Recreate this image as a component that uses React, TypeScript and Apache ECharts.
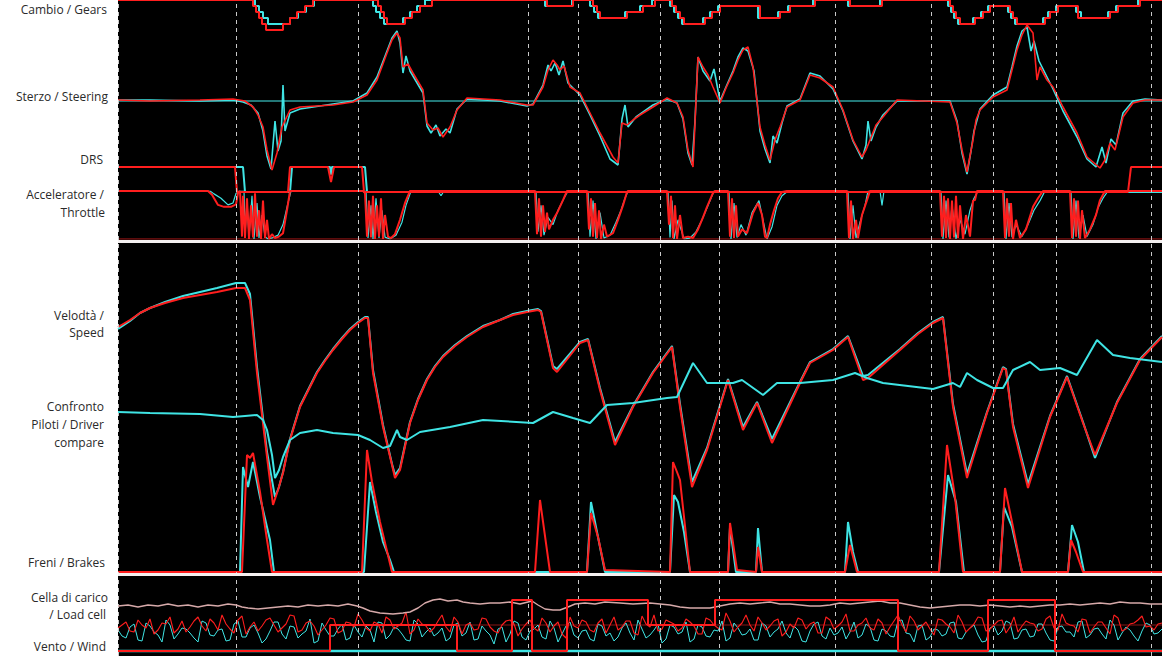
import React, { useEffect, useRef } from "react";
import * as echarts from "echarts";

type P = [number, number];

const RED = "#ff1e1e";
const CYAN = "#3fe4e4";

// distance unit: 1 = 5 m along the lap (0..1044)
const lapMarkers = [0, 118, 240, 410, 460, 542, 601, 717, 813, 875, 938, 1033];

const labels: { text: string; y: number; right: number }[] = [
  { text: "Cambio / Gears", y: 9, right: 107 },
  { text: "Sterzo / Steering", y: 96, right: 108 },
  { text: "DRS", y: 159, right: 103 },
  { text: "Acceleratore /", y: 194, right: 104 },
  { text: "Throttle", y: 212, right: 105 },
  { text: "Velodtà /", y: 315, right: 104 },
  { text: "Speed", y: 332, right: 104 },
  { text: "Confronto", y: 406, right: 104 },
  { text: "Piloti / Driver", y: 424, right: 104 },
  { text: "compare", y: 442, right: 104 },
  { text: "Freni / Brakes", y: 562, right: 105 },
  { text: "Cella di carico", y: 597, right: 108 },
  { text: "/ Load cell", y: 614, right: 106 },
  { text: "Vento / Wind", y: 646, right: 106 },
];

// Gears (step: value held until next point)
const gearRed: P[] = [[0,8],[135,7],[138,6],[141,5],[144,4],[148,3],[165,4],[172,5],[179,6],[187,7],[195,8],[260,7],[263,6],[266,5],[269,4],[287,5],[294,6],[302,7],[314,8],[429,7],[455,8],[475,7],[479,6],[482,5],[509,6],[525,7],[537,8],[554,7],[558,6],[562,5],[566,4],[587,5],[594,6],[602,7],[642,5],[662,6],[672,7],[697,8],[732,7],[764,8],[832,7],[835,6],[838,5],[842,4],[857,5],[865,6],[872,7],[892,6],[895,5],[899,4],[927,5],[932,6],[940,7],[960,5],[992,6],[1000,7],[1022,8],[1044,8]];
const gearCyan: P[] = [[0,8],[137,7],[141,6],[145,5],[150,4],[172,5],[180,6],[188,7],[196,8],[255,7],[258,6],[262,5],[266,4],[285,5],[292,6],[299,7],[307,8],[427,7],[454,8],[472,7],[476,6],[480,5],[507,6],[522,7],[534,8],[552,7],[556,6],[560,5],[564,4],[585,5],[592,6],[600,7],[640,5],[660,6],[670,7],[695,8],[730,7],[762,8],[830,7],[833,6],[836,5],[840,4],[855,5],[863,6],[870,7],[890,6],[893,5],[897,4],[925,5],[930,6],[938,7],[958,6],[963,5],[990,6],[998,7],[1020,8],[1044,8]];

// Steering angle (deg)
const steerZero: P[] = [[0,0],[1044,0]];
const steerRed: P[] = [[0,1],[32,0],[82,1],[115,2],[127,0],[135,-6],[140,-14],[145,-26],[149,-49],[154,-69],[159,-52],[164,-26],[172,-9],[182,-6],[215,-4],[235,-1],[249,6],[259,21],[269,48],[274,61],[279,68],[282,63],[285,34],[290,37],[295,28],[305,11],[309,-22],[315,-29],[320,-27],[325,-36],[332,-26],[339,-9],[349,3],[382,1],[409,-4],[415,-4],[425,14],[430,31],[435,41],[439,36],[442,31],[446,35],[452,14],[462,8],[472,-12],[482,-32],[495,-56],[500,-62],[504,-22],[509,-24],[515,-19],[522,-14],[535,-6],[549,3],[559,-2],[565,-16],[570,-49],[575,-66],[580,44],[585,34],[590,26],[595,14],[602,-2],[608,13],[615,28],[620,41],[625,51],[630,54],[635,34],[642,-26],[647,-44],[652,-59],[657,-39],[662,-26],[669,-6],[682,1],[692,26],[702,23],[715,14],[725,-9],[735,-39],[744,-56],[748,-49],[752,-39],[758,-24],[765,-16],[779,1],[832,-1],[839,-22],[844,-49],[849,-71],[855,-39],[858,-19],[862,-9],[875,4],[889,11],[894,31],[899,51],[904,66],[909,76],[915,68],[919,21],[922,34],[929,21],[935,14],[945,-6],[959,-32],[969,-56],[982,-67],[987,-59],[992,-42],[997,-49],[1005,-16],[1015,-2],[1027,1],[1044,1]];
const steerCyan: P[] = [[0,1],[32,1],[82,0],[115,1],[125,-1],[133,-4],[140,-12],[145,-30],[149,-55],[153,-68],[157,-20],[160,-50],[163,-40],[165,16],[167,-30],[172,-12],[182,-8],[215,-3],[235,0],[249,8],[259,24],[269,50],[274,63],[279,70],[282,58],[285,28],[288,45],[292,30],[305,8],[309,-25],[313,-32],[318,-24],[322,-35],[328,-28],[332,-32],[339,-8],[349,2],[382,0],[409,-5],[415,-3],[425,16],[430,36],[433,30],[437,38],[441,26],[445,40],[450,18],[462,6],[472,-14],[482,-35],[492,-58],[500,-64],[504,-18],[507,-4],[510,-26],[518,-16],[535,-4],[549,2],[559,-2],[565,-18],[570,-52],[574,-64],[577,-20],[580,44],[585,30],[592,20],[596,32],[602,0],[608,14],[615,30],[620,44],[625,53],[630,50],[636,30],[642,-30],[647,-48],[652,-62],[655,-35],[659,-42],[664,-22],[669,-5],[682,2],[692,28],[702,25],[715,12],[725,-10],[735,-40],[744,-58],[748,-44],[750,-20],[753,-40],[758,-26],[765,-14],[779,0],[832,0],[839,-20],[844,-52],[849,-73],[853,-50],[856,-30],[862,-8],[875,6],[889,14],[894,34],[899,55],[904,70],[909,74],[913,50],[916,60],[921,40],[929,24],[935,12],[945,-10],[959,-36],[969,-58],[978,-66],[984,-46],[988,-62],[993,-38],[998,-44],[1005,-12],[1015,0],[1027,2],[1044,1]];

// DRS (1 = open)
const drsRed: P[] = [[0,1],[117,1],[119,0],[170,0],[172,1],[210,1],[213,0.4],[216,1],[244,1],[246,0],[1010,0],[1013,1],[1044,1]];
const drsCyan: P[] = [[0,1],[125,1],[127,0],[172,0],[174,1],[212,1],[213,0.7],[214,1],[247,1],[249,0],[1044,0]];

// Throttle (%)
const thrZero: P[] = [[0,0],[1044,0]];
const thrRed: P[] = [[0,100],[90,100],[94,92],[100,71],[106,67],[113,67],[118,72],[120,96],[122,100],[124,5],[125,90],[127,2],[129,85],[131,0],[133,70],[135,3],[137,95],[139,5],[141,60],[143,0],[145,80],[147,2],[149,40],[151,0],[154,10],[157,2],[161,5],[165,12],[169,60],[172,100],[245,100],[247,96],[249,5],[251,80],[253,3],[255,90],[257,0],[259,70],[261,5],[263,85],[265,0],[267,50],[270,5],[273,2],[277,10],[282,40],[287,75],[292,100],[417,100],[419,10],[421,85],[423,5],[425,70],[427,15],[429,55],[431,20],[435,40],[439,54],[445,81],[449,100],[469,100],[471,20],[473,85],[475,5],[477,75],[479,2],[481,60],[483,0],[486,30],[489,5],[495,12],[500,40],[505,70],[509,98],[510,100],[549,100],[551,30],[553,90],[555,2],[557,70],[559,0],[562,50],[565,2],[570,5],[575,2],[580,20],[585,45],[589,67],[595,96],[597,100],[610,100],[612,5],[614,85],[616,2],[618,70],[620,5],[624,20],[629,12],[633,40],[635,54],[640,75],[644,50],[647,5],[649,2],[652,30],[656,60],[660,85],[664,98],[669,100],[729,100],[731,2],[733,80],[735,0],[738,40],[740,2],[744,50],[749,81],[752,100],[822,100],[824,5],[826,90],[828,2],[830,85],[832,0],[834,80],[836,3],[838,90],[840,2],[842,70],[845,0],[848,50],[852,5],[855,80],[857,81],[859,100],[885,100],[887,2],[889,85],[891,5],[893,75],[895,0],[898,40],[902,2],[908,20],[915,67],[920,85],[925,100],[952,100],[954,2],[956,85],[958,5],[960,80],[962,0],[964,60],[967,2],[972,20],[978,50],[982,81],[987,100],[1044,100]];
const thrCyan: P[] = [[0,100],[92,100],[96,94],[103,85],[110,71],[115,75],[118,95],[121,100],[126,100],[127,8],[129,80],[131,3],[134,90],[136,0],[139,75],[141,2],[144,50],[147,5],[150,0],[155,3],[160,8],[165,30],[170,75],[173,100],[248,100],[250,2],[253,70],[255,0],[258,85],[261,2],[264,60],[267,4],[272,0],[278,8],[284,35],[288,70],[293,100],[320,100],[323,90],[326,100],[418,100],[420,15],[423,70],[426,8],[430,45],[435,30],[440,60],[446,85],[450,100],[470,100],[472,5],[475,80],[478,0],[482,55],[486,2],[492,8],[498,35],[503,60],[507,85],[510,100],[550,100],[552,3],[554,80],[556,0],[560,40],[566,0],[572,2],[578,15],[584,40],[590,70],[596,100],[611,100],[613,0],[616,75],[619,3],[623,30],[628,8],[634,55],[641,80],[645,40],[649,0],[654,25],[659,70],[664,90],[670,100],[730,100],[732,0],[735,70],[738,2],[742,35],[747,70],[750,100],[762,100],[764,70],[766,100],[823,100],[825,0],[828,80],[831,3],[834,70],[838,0],[842,40],[847,10],[852,60],[856,85],[860,100],[886,100],[888,0],[891,75],[894,4],[898,30],[904,5],[910,30],[916,60],[922,80],[927,100],[953,100],[955,0],[958,80],[961,2],[965,50],[969,5],[975,30],[980,65],[985,85],[990,100],[1044,100]];

// Speed (km/h)
const speedRed: P[] = [[0,245],[12,252],[22,259],[32,264],[47,269],[65,274],[82,277],[99,280],[118,284],[127,284],[132,272],[139,199],[149,115],[155,67],[160,82],[165,99],[172,132],[182,165],[191,183],[199,199],[207,211],[215,222],[224,233],[232,242],[240,249],[247,254],[250,254],[255,199],[265,145],[274,107],[277,94],[282,102],[292,149],[300,172],[309,192],[317,205],[325,215],[337,226],[349,235],[365,245],[382,252],[395,257],[409,260],[420,262],[423,260],[435,204],[439,200],[462,229],[470,232],[482,182],[497,127],[515,165],[535,199],[554,225],[562,165],[574,85],[589,122],[610,192],[625,142],[639,169],[654,129],[682,189],[692,209],[715,222],[730,235],[745,192],[750,194],[782,222],[800,238],[815,249],[825,254],[835,165],[849,94],[869,159],[885,204],[888,202],[895,145],[910,84],[932,155],[949,195],[965,149],[977,117],[999,169],[1022,212],[1044,235]];
const speedCyan: P[] = [[0,243],[12,251],[22,259],[32,264],[47,270],[65,276],[82,280],[99,284],[118,289],[127,289],[132,278],[139,205],[149,120],[157,75],[161,85],[165,100],[172,133],[182,166],[191,184],[199,200],[207,212],[215,223],[224,234],[232,243],[240,250],[247,255],[250,255],[255,202],[265,147],[274,108],[277,97],[282,104],[292,150],[300,173],[309,193],[317,206],[325,216],[337,227],[349,236],[365,246],[382,252],[395,258],[409,261],[420,263],[423,261],[435,206],[439,203],[462,230],[470,233],[482,184],[497,130],[515,166],[535,200],[554,226],[562,168],[574,90],[589,124],[610,193],[625,145],[639,170],[654,133],[682,190],[692,210],[715,223],[730,236],[745,196],[750,197],[782,223],[800,239],[815,250],[825,255],[835,168],[849,98],[869,160],[885,205],[888,203],[895,148],[910,88],[932,156],[949,196],[965,150],[977,114],[999,170],[1022,213],[1044,236]];

// Driver compare (time delta, s)
const deltaCyan: P[] = [[0,-0.01],[32,-0.02],[82,-0.03],[115,-0.06],[127,-0.05],[139,-0.04],[145,-0.09],[149,-0.19],[154,-0.44],[157,-0.67],[161,-0.59],[165,-0.46],[172,-0.29],[182,-0.22],[199,-0.19],[215,-0.22],[240,-0.24],[252,-0.29],[265,-0.37],[272,-0.35],[279,-0.19],[282,-0.26],[289,-0.29],[302,-0.21],[332,-0.16],[365,-0.09],[415,-0.12],[435,-0.01],[455,-0.07],[472,-0.12],[489,0.06],[515,0.08],[549,0.13],[559,0.14],[575,0.48],[589,0.28],[615,0.28],[624,0.31],[645,0.16],[659,0.28],[682,0.28],[715,0.31],[737,0.38],[749,0.33],[765,0.28],[815,0.22],[835,0.28],[842,0.24],[849,0.38],[859,0.31],[875,0.23],[885,0.23],[895,0.41],[912,0.49],[922,0.41],[942,0.43],[959,0.36],[979,0.71],[995,0.56],[1012,0.53],[1044,0.49]];

// Brakes (bar)
const brakeRed: P[] = [[0,0],[124,0],[129,117],[132,114],[135,119],[142,80],[149,32],[154,0],[244,0],[249,122],[254,90],[262,50],[274,0],[417,0],[422,72],[432,0],[469,0],[473,59],[480,35],[487,2],[552,0],[555,110],[559,100],[562,92],[572,0],[610,0],[612,49],[619,2],[638,0],[640,25],[644,0],[727,0],[732,27],[739,0],[821,0],[829,127],[837,75],[845,0],[882,0],[887,84],[894,50],[904,0],[950,0],[953,32],[958,20],[965,0],[1044,0]];
const brakeCyan: P[] = [[0,0],[122,0],[125,105],[130,85],[135,110],[142,75],[152,32],[156,0],[246,0],[252,90],[258,60],[265,30],[272,12],[276,0],[469,0],[473,70],[478,45],[487,0],[552,0],[556,77],[560,70],[566,40],[572,0],[610,0],[612,45],[618,0],[638,0],[640,44],[644,0],[727,0],[730,50],[735,20],[740,0],[821,0],[830,97],[838,70],[846,0],[882,0],[886,65],[894,45],[904,0],[950,0],[954,47],[960,30],[966,0],[1044,0]];

// Load cell: samples every 8 units (A) and at +4 (B)
const loadStep = 8;
const loadRedA = [22,28,18,25,31,20,26,17,29,23,33,19,27,35,21,30,16,28,24,32,18,26,34,20,29,15,25,31,19,27,36,22,28,17,30,24,38,20,26,18,29,23,33,16,27,21,31,19,25,30,14,26,22,32,18,28,12,24,30,20,27,17,33,23,29,15,26,35,21,28,19,31,24,16,30,22,37,18,27,25,33,20,29,14,26,32,21,28,17,30,24,36,19,27,22,31,16,29,25,34,20,28,15,30,23,35,18,26,32,21,29,17,33,24,27,19,31,22,36,25,18,30,23,28,16,32,21,27,34,24,26];
const loadRedB = [25,19,30,22,16,27,33,21,18,29,24,31,20,26,17,34,23,19,30,25,22,35,18,27,24,20,32,17,28,23,30,19,26,33,21,27,16,31,24,22,35,18,28,25,20,32,23,17,29,26,21,30,19,27,24,16,33,22,28,18,31,25,20,29,17,34,23,19,30,26,22,28,16,32,25,20,29,23,35,19,27,24,31,18,22,30,26,17,33,21,28,19,25,32,20,27,23,35,18,29,24,21,31,26,17,28,22,33,19,25,30,23,18,29,26,21,34,20,27,24,31,17,28,22,35,19,26,30,23,20,27];
const loadCyanA = [20,12,26,9,24,15,30,11,22,17,8,27,14,21,10,29,13,25,7,19,28,11,23,16,31,9,20,14,26,12,18,24,8,27,15,21,10,30,13,22,17,9,25,14,28,11,19,6,23,16,27,10,21,13,29,8,24,15,19,11,26,14,9,22,17,30,12,20,7,25,16,28,11,23,13,19,9,27,15,21,10,24,18,29,12,20,8,26,14,22,17,11,28,15,23,9,19,13,30,16,24,10,21,14,27,12,18,25,8,22,15,29,11,20,13,26,17,9,24,18,28,12,21,16,30,10,23,14,19,25,17];
const loadCyanB = [14,23,10,27,18,8,25,16,21,12,29,15,20,9,26,13,22,17,11,28,16,24,12,19,7,27,14,21,10,25,13,20,28,11,23,16,9,26,18,14,22,12,27,17,10,24,15,21,8,29,13,19,25,11,22,16,28,12,20,9,24,17,13,27,10,21,15,26,11,23,18,8,25,14,20,29,12,22,16,10,27,13,21,17,24,9,19,28,11,15,23,18,12,26,10,21,14,29,17,8,25,13,20,16,28,11,22,15,9,24,19,27,12,21,14,26,10,23,18,13,29,15,22,11,25,17,20,9,27,16,21];
const loadPale: P[] = [[0,44],[10,45],[20,43],[30,45],[40,44],[50,46],[60,44],[70,45],[80,43],[90,45],[100,44],[110,46],[118,45],[124,43],[130,42],[140,41],[150,42],[160,43],[170,44],[180,43],[190,45],[200,44],[210,45],[220,44],[230,46],[239,44],[245,42],[252,39],[262,37],[275,36],[285,37],[292,38],[300,42],[307,47],[315,50],[322,51],[330,49],[339,50],[345,48],[352,47],[362,46],[372,47],[382,47],[392,48],[402,46],[414,49],[420,45],[427,41],[435,40],[442,40],[450,43],[457,46],[467,47],[477,46],[487,48],[502,47],[515,46],[532,47],[542,46],[552,45],[562,43],[572,42],[582,42],[592,42],[602,44],[612,46],[622,47],[632,46],[642,47],[652,48],[662,46],[672,46],[682,45],[692,44],[702,44],[712,45],[722,47],[732,46],[742,47],[752,48],[762,49],[772,47],[782,47],[792,45],[802,43],[812,42],[822,43],[832,44],[842,45],[852,45],[862,44],[872,45],[882,44],[892,43],[902,44],[912,43],[922,44],[932,45],[942,45],[952,46],[962,45],[972,46],[982,47],[992,46],[1002,48],[1012,47],[1022,47],[1032,46],[1044,46]];
const loadRef: P[] = [[249,25],[1044,25]];

// Wind
const windRed: P[] = [[0,-1],[212,-1],[212,25],[339,25],[339,-1],[394,-1],[394,50],[414,50],[414,-1],[449,-1],[449,50],[530,50],[530,25],[597,25],[597,50],[780,50],[780,-1],[870,-1],[870,50],[937,50],[937,-1],[1044,-1]];
const windCyan: P[] = [[0,-1],[1044,-1]];

// grid layout: frame, gear, steer, drs, throttle, speed, delta, brake, load
const gridBoxes = [
  { top: 0, height: 656 },
  { top: 0, height: 42 },
  { top: 1, height: 200 },
  { top: 167, height: 25 },
  { top: 191, height: 48 },
  { top: 252, height: 320 },
  { top: 251, height: 320 },
  { top: 442, height: 130 },
  { top: 590, height: 66 },
];
const yRanges: P[] = [[0,1],[1,8],[-100,100],[0,1],[0,100],[0,320],[-1.6,1.6],[0,130],[-6,60]];

function ln(g: number, data: any[], color: string, width: number, z: number, extra: any = {}) {
  return {
    type: "line",
    xAxisIndex: g,
    yAxisIndex: g,
    data,
    symbol: "none",
    showSymbol: false,
    silent: true,
    z,
    lineStyle: { color, width },
    itemStyle: { color },
    ...extra,
  };
}

function interleave(a: number[], b: number[]): number[][] {
  const out: number[][] = [];
  a.forEach((v, i) => {
    out.push([i * loadStep, v]);
    if (i < b.length) out.push([i * loadStep + loadStep / 2, b[i]]);
  });
  return out;
}

export default function App() {
  const ref = useRef<HTMLDivElement>(null);
  useEffect(() => {
    if (!ref.current) return;
    const chart = echarts.init(ref.current, undefined, { renderer: "svg" });
    const loadRedPts = interleave(loadRedA, loadRedB);
    const loadCyanPts = interleave(loadCyanA, loadCyanB);

    const graphic: any[] = [
      { type: "rect", z: 100, shape: { x: 118, y: 240, width: 1044, height: 3 }, style: { fill: "#f4f0f0" } },
      { type: "rect", z: 100, shape: { x: 118, y: 573, width: 1044, height: 3 }, style: { fill: "#f4f0f0" } },
      ...labels.map((l) => ({
        type: "text",
        z: 100,
        x: l.right,
        y: l.y,
        style: {
          text: l.text,
          fill: "#2a2a2a",
          font: "12px 'Open Sans', sans-serif",
          textAlign: "right",
          textVerticalAlign: "middle",
        },
      })),
    ];

    chart.setOption({
      animation: false,
      backgroundColor: "#ffffff",
      textStyle: { fontFamily: "'Open Sans', sans-serif" },
      grid: gridBoxes.map((b, i) => ({
        left: 118,
        right: 6,
        top: b.top,
        height: b.height,
        show: i === 0,
        backgroundColor: "#000000",
        borderWidth: 0,
      })),
      xAxis: gridBoxes.map((_, i) => ({ type: "value", gridIndex: i, min: 0, max: 1044, show: false })),
      yAxis: yRanges.map(([min, max], i) => ({ type: "value", gridIndex: i, min, max, show: false, splitLine: { show: false } })),
      graphic,
      series: [
        ln(0, [[0, 0], [1044, 0]], "#000", 0, 1, {
          lineStyle: { opacity: 0 },
          markLine: {
            silent: true,
            symbol: ["none", "none"],
            label: { show: false },
            lineStyle: { color: "#c9c9c9", type: [4, 4], width: 1 },
            data: lapMarkers.map((d) => ({ xAxis: d })),
          },
        }),
        // gears
        ln(1, gearCyan, CYAN, 2, 3, { step: "end" }),
        ln(1, gearRed, RED, 2, 4, { step: "end" }),
        // steering
        ln(2, steerZero, "#2f9f9f", 1.3, 2),
        ln(2, steerCyan, CYAN, 1.6, 3),
        ln(2, steerRed, RED, 1.6, 4),
        // DRS
        ln(3, drsCyan, CYAN, 2, 3),
        ln(3, drsRed, RED, 2, 4),
        // throttle
        ln(4, thrZero, "#7a1010", 1.5, 2),
        ln(4, thrCyan, CYAN, 1.2, 3),
        ln(4, thrRed, RED, 2, 4),
        // speed
        ln(5, speedCyan, CYAN, 2, 3),
        ln(5, speedRed, RED, 2, 4),
        // driver compare
        ln(6, deltaCyan, CYAN, 2, 5),
        // brakes
        ln(7, brakeCyan, CYAN, 2, 3),
        ln(7, brakeRed, RED, 2, 4),
        // load cell & wind
        ln(8, windCyan, CYAN, 2.5, 2),
        ln(8, loadRef, "#8a1414", 1, 2),
        ln(8, loadCyanPts, CYAN, 1, 3),
        ln(8, loadRedPts, RED, 1.1, 4),
        ln(8, loadPale, "#d6a9a9", 1.4, 5),
        ln(8, windRed, RED, 2, 6),
      ],
    });
    return () => chart.dispose();
  }, []);

  return (
    <div
      ref={ref}
      style={{ position: "absolute", left: 0, top: 0, width: 1168, height: 656, background: "#fff" }}
    />
  );
}
